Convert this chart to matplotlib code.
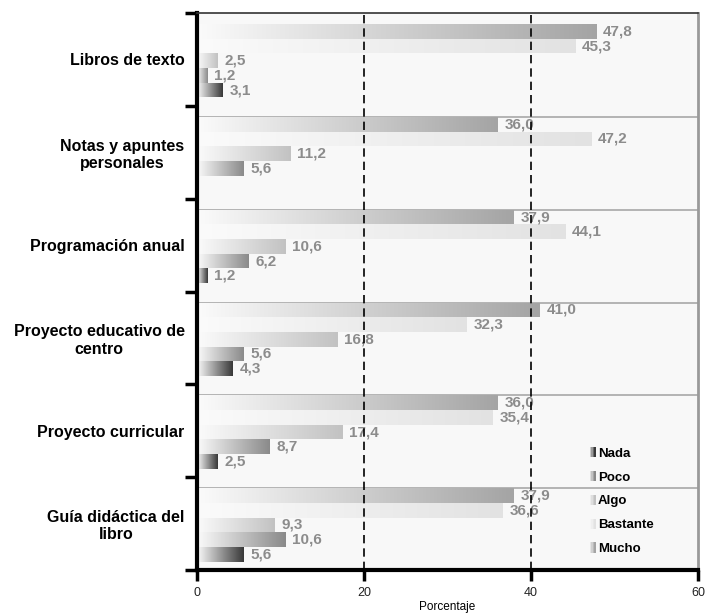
import matplotlib
matplotlib.use('Agg')
import matplotlib.pyplot as plt
import numpy as np
from matplotlib.colors import LinearSegmentedColormap
from matplotlib.patches import Rectangle
from matplotlib.legend_handler import HandlerBase

plt.rcParams['font.family'] = ['Liberation Sans', 'DejaVu Sans']

categories = ['Libros de texto', 'Notas y apuntes\npersonales', 'Programación anual',
              'Proyecto educativo de\ncentro', 'Proyecto curricular', 'Guía didáctica del\nlibro']
series = ['Mucho', 'Bastante', 'Algo', 'Poco', 'Nada']
mucho = [47.8, 36.0, 37.9, 41.0, 36.0, 37.9]
bastante = [45.3, 47.2, 44.1, 32.3, 35.4, 36.6]
algo = [2.5, 11.2, 10.6, 16.8, 17.4, 9.3]
poco = [1.2, 5.6, 6.2, 5.6, 8.7, 10.6]
nada = [3.1, 0.0, 1.2, 4.3, 2.5, 5.6]
values = [mucho, bastante, algo, poco, nada]
xticks = [0, 20, 40, 60]

# dark end of each bar gradient
end_colors = ['#a4a4a4', '#e2e2e2', '#c2c2c2', '#8a8a8a', '#383838']
start_color = '#fbfbfb'

fig = plt.figure(figsize=(7.08, 6.14), dpi=100)
ax = fig.add_axes([197/708, 1-570/614, 501/708, 557/614])
ax.set_facecolor('#f8f8f8')

h = 0.158
top = 0.12
grad = np.linspace(0, 1, 256).reshape(1, -1)
ncat = len(categories)
for j, name in enumerate(series):
    y = np.arange(ncat) + top + h*(j+0.5)
    bars = ax.barh(y, values[j], height=h, color='none', edgecolor='none', zorder=2)
    cmap = LinearSegmentedColormap.from_list(name, [start_color, end_colors[j]])
    for p in bars.patches:
        if p.get_width() <= 0:
            continue
        x0, y0 = p.get_x(), p.get_y()
        im = ax.imshow(grad, cmap=cmap, vmin=0, vmax=1, aspect='auto',
                       extent=[x0, x0+p.get_width(), y0+p.get_height(), y0],
                       interpolation='bilinear', zorder=2)
        im.set_clip_path(p)
    labels = [f'{v:.1f}'.replace('.', ',') if v > 0 else '' for v in values[j]]
    ax.bar_label(bars, labels=labels, padding=5, fontsize=11, fontweight='bold',
                 color='#8c8c8c', zorder=4)

# group separators
for k in range(1, ncat):
    ax.axhline(k + top, color='#a8a8a8', lw=1.2, zorder=1)

for xv in (20, 40):
    ax.axvline(xv, color='black', lw=1.2, ls=(0, (5, 3)), zorder=5)

ax.set_xlim(0, 60)
ax.set_ylim(ncat, 0)

ax.set_yticks(np.arange(ncat+1))
ax.set_yticklabels([])
ax.set_yticks(np.arange(ncat) + 0.5, minor=True)
ax.set_yticklabels(categories, minor=True, fontsize=11.5, fontweight='bold',
                   multialignment='center')
ax.tick_params(axis='y', which='major', length=9, width=2.5, direction='out')
ax.tick_params(axis='y', which='minor', length=0, pad=9)

ax.set_xticks(xticks)
ax.set_xticklabels([str(t) for t in xticks], fontsize=9, color='#222222')
ax.tick_params(axis='x', length=8, width=2.5, direction='out', pad=4)
ax.set_xlabel('Porcentaje', fontsize=8.5, labelpad=2)

ax.spines['left'].set_linewidth(3)
ax.spines['bottom'].set_linewidth(3)
ax.spines['top'].set_linewidth(1.2)
ax.spines['top'].set_color('#333333')
ax.spines['right'].set_linewidth(2)
ax.spines['right'].set_color('#9a9a9a')


class GradientHandler(HandlerBase):
    def create_artists(self, legend, orig_handle, xdescent, ydescent, width, height,
                       fontsize, trans):
        end = np.array(matplotlib.colors.to_rgb(orig_handle.get_facecolor()))
        start = np.array(matplotlib.colors.to_rgb(start_color))
        n = 4
        out = []
        for i in range(n):
            c = start + (end - start) * (i + 1) / n
            r = Rectangle((-xdescent + width*i/n, -ydescent), width/n, height,
                          facecolor=c, edgecolor='none', transform=trans)
            out.append(r)
        return out


handles = [Rectangle((0, 0), 1, 1, facecolor=end_colors[j]) for j in range(len(series))][::-1]
leg = ax.legend(handles, series[::-1], loc='lower left', bbox_to_anchor=(0.771, 0.015),
                frameon=False, handlelength=0.45, handleheight=0.8,
                handletextpad=0.15, labelspacing=0.85, borderpad=0,
                handler_map={Rectangle: GradientHandler()}, prop={'weight': 'bold', 'size': 9.5})

fig.savefig('out.png', dpi=100)
